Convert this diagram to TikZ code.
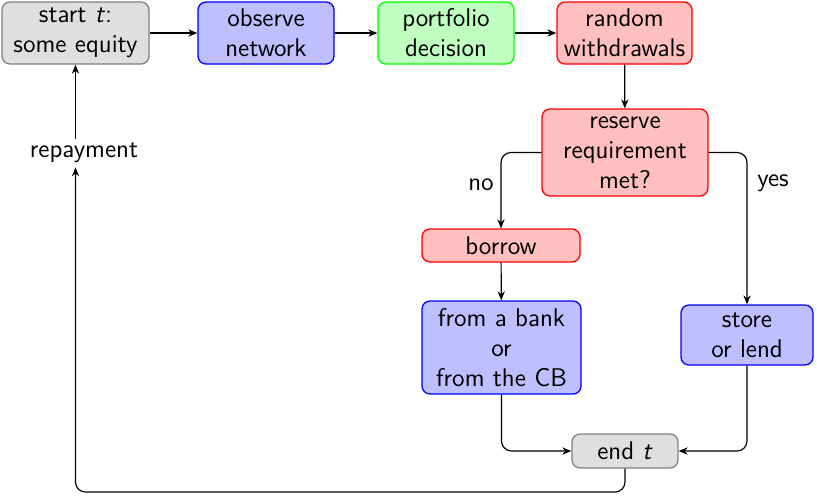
\documentclass[tikz,border=0pt]{standalone}
\usetikzlibrary{arrows.meta}
\begin{document}
\begin{tikzpicture}[x=0.5pt,y=-0.5pt,
  font=\sffamily\fontsize{12.8}{15}\selectfont,
  box/.style={draw, rounded corners=4pt, line width=0.65pt, align=center, inner sep=0pt},
  graybox/.style={box, draw=gray, fill=gray!25},
  bluebox/.style={box, draw=blue, fill=blue!25},
  greenbox/.style={box, draw=green, fill=green!25},
  redbox/.style={box, draw=red, fill=red!25},
  conn/.style={-{Stealth[length=4.5pt,width=3.6pt]}, line width=0.6pt, rounded corners=5pt}]
\useasboundingbox (0,0) rectangle (817,495);

% process steps along the top row
\node[graybox, minimum width=73.5pt, minimum height=31pt] (start) at (75.5,33) {start \textit{t}:\\some equity};
\node[bluebox, minimum width=68pt, minimum height=31pt] (observe) at (266,33) {observe\\network};
\node[greenbox, minimum width=68pt, minimum height=31pt] (portfolio) at (446,33) {portfolio\\decision};
\node[redbox, minimum width=67.5pt, minimum height=31pt] (withdraw) at (624.5,33) {random\\withdrawals};

% decision and its two branches
\node[redbox, minimum width=83pt, minimum height=43.5pt] (reserve) at (625,152.5) {reserve\\requirement\\met?};
\node[redbox, minimum width=79pt, minimum height=16.5pt] (borrow) at (501,245.5) {borrow};
\node[bluebox, minimum width=79.5pt, minimum height=46.5pt] (source) at (501.5,347.5) {from a bank\\or\\from the CB};
\node[bluebox, minimum width=66pt, minimum height=30pt] (store) at (747,335) {store\\or lend};
\node[graybox, minimum width=53pt, minimum height=17pt] (endt) at (625,451) {end \textit{t}};

% feedback label on the return path
\node[inner sep=2pt] (repay) at (84,153) {repayment};
\coordinate (loop) at (75.5,492);

\draw[conn] (start) -- (observe);
\draw[conn] (observe) -- (portfolio);
\draw[conn] (portfolio) -- (withdraw);
\draw[conn] (withdraw) -- (reserve);
\draw[conn] (reserve.west) -| node[pos=0.71, left=0pt] {no} (borrow.north);
\draw[conn] (reserve.east) -| node[pos=0.6, right=1.5pt] {yes} (store.north);
\draw[conn] (borrow) -- (source);
\draw[conn] (source.south) |- (endt.west);
\draw[conn] (store.south) |- (endt.east);
\draw[conn] (endt.south) |- (loop) -- (loop |- repay.south);
\draw[conn] (start.south |- repay.north) -- (start.south);
\end{tikzpicture}
\end{document}
